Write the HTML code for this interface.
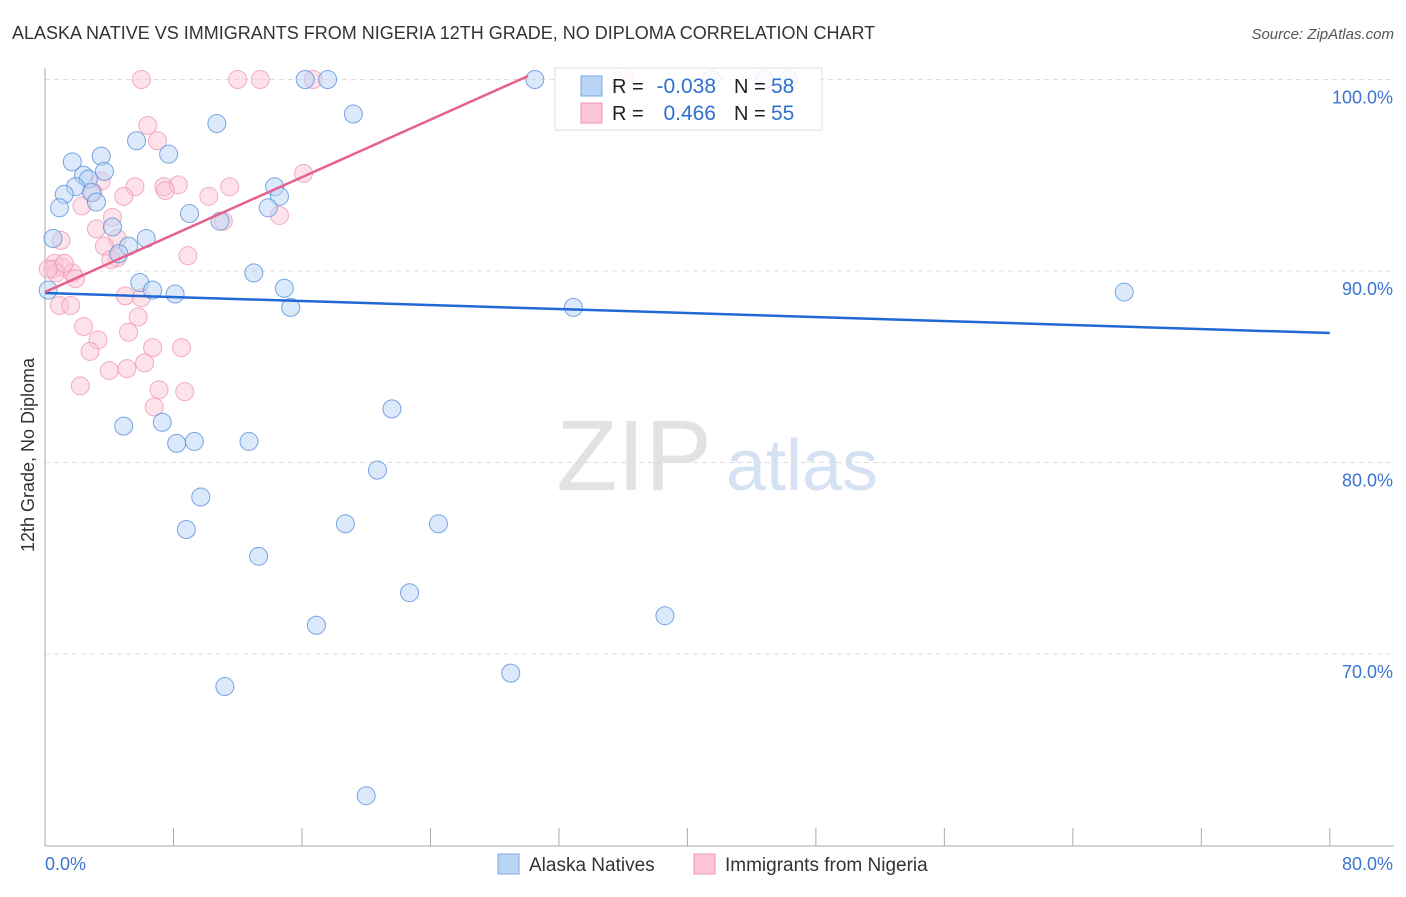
<!DOCTYPE html>
<html><head><meta charset="utf-8"><style>
body{margin:0;background:#fff;font-family:"Liberation Sans",sans-serif}
svg text{font-family:"Liberation Sans",sans-serif}
</style></head><body>
<svg id="chart" width="1406" height="892">
<text x="12" y="39" font-size="18" fill="#333">ALASKA NATIVE VS IMMIGRANTS FROM NIGERIA 12TH GRADE, NO DIPLOMA CORRELATION CHART</text>
<text x="1394" y="39" font-size="15" fill="#555" text-anchor="end" font-style="italic">Source: ZipAtlas.com</text>
<text x="634" y="490" font-size="100" fill="#e2e2e2" font-family="Liberation Serif" text-anchor="middle">ZIP</text>
<text x="802" y="490" font-size="72" fill="#d5e2f3" text-anchor="middle">atlas</text>
<g id="grid"></g>
<g id="axes"></g>
<g id="pts"></g>
<g id="lines"></g>
<text x="34" y="455" font-size="18" fill="#333" text-anchor="middle" transform="rotate(-90 34 455)">12th Grade, No Diploma</text>
<g>
<rect x="555" y="68" width="267" height="62" fill="#fff" fill-opacity="0.85" stroke="#ddd"/>
<rect x="581" y="76" width="21" height="20" fill="#b9d4f5" stroke="#7aa7e3"/>
<rect x="581" y="103" width="21" height="20" fill="#fcc6d6" stroke="#ee94b0"/>
<text x="612" y="93" font-size="20" fill="#222">R =</text>
<text x="716" y="93" font-size="21" fill="#2f6fd0" text-anchor="end">-0.038</text>
<text x="734" y="93" font-size="20" fill="#222">N =</text>
<text x="771" y="93" font-size="21" fill="#2f6fd0">58</text>
<text x="612" y="120" font-size="20" fill="#222">R =</text>
<text x="716" y="120" font-size="21" fill="#2f6fd0" text-anchor="end">0.466</text>
<text x="734" y="120" font-size="20" fill="#222">N =</text>
<text x="771" y="120" font-size="21" fill="#2f6fd0">55</text>
</g>
<g>
<rect x="498" y="854" width="21" height="20" fill="#b9d4f5" stroke="#7aa7e3"/>
<text x="529" y="871" font-size="19" fill="#333">Alaska Natives</text>
<rect x="694" y="854" width="21" height="20" fill="#fcc6d6" stroke="#ee94b0"/>
<text x="725" y="871" font-size="19" fill="#333">Immigrants from Nigeria</text>
</g>
</svg>
<script>
const blueX=[30.5,16.2,17.6,41.5,44.8,46.3,19.2,10.7,5.7,7.7,1.7,3.5,3.7,2.4,2.7,1.9,1.2,2.9,3.2,0.9,14.3,14.6,13.9,9.0,10.9,4.2,0.5,6.3,5.2,4.6,13.0,5.9,14.9,6.7,8.1,0.2,15.3,32.9,67.2,21.6,4.9,7.3,8.2,9.3,12.7,20.7,9.7,18.7,24.5,8.8,13.3,22.7,38.6,16.9,11.2,29.0,20.0];
const blueY=[100,100,100,100,100,100,98.2,97.7,96.8,96.1,95.7,96.0,95.2,95.0,94.8,94.4,94.0,94.1,93.6,93.3,94.4,93.9,93.3,93.0,92.6,92.3,91.7,91.7,91.3,90.9,89.9,89.4,89.1,89.0,88.8,89.0,88.1,88.1,88.9,82.8,81.9,82.1,81.0,81.1,81.1,79.6,78.2,76.8,76.8,76.5,75.1,73.2,72.0,71.5,68.3,69.0,62.6];
const pinkX=[6.0,12.0,13.4,16.7,36.1,6.4,7.0,3.5,5.6,7.4,8.3,11.5,3.0,4.9,7.5,10.2,2.3,16.1,14.6,4.2,3.2,11.1,4.5,1.0,3.7,4.5,4.1,8.9,0.6,1.1,0.5,0.7,1.7,1.9,1.2,5.0,6.0,0.9,1.6,5.8,2.4,5.2,3.3,2.8,6.7,8.5,6.2,4.0,5.1,2.2,7.1,8.7,6.8,0.2];
const pinkY=[100,100,100,100,100,97.6,96.8,94.7,94.4,94.4,94.5,94.4,94.1,93.9,94.2,93.9,93.4,95.1,92.9,92.8,92.2,92.6,91.7,91.6,91.3,90.7,90.6,90.8,90.4,90.2,90.1,89.9,89.9,89.6,90.4,88.7,88.6,88.2,88.2,87.6,87.1,86.8,86.4,85.8,86.0,86.0,85.2,84.8,84.9,84.0,83.8,83.7,82.9,90.1];
const blueTrend=[[0,88.85],[80,86.76]];
const pinkTrend=[[0,88.9],[30.07,100.18]];
const yTicks=[100,90,80,70];
const yTickLabels=["100.0%","90.0%","80.0%","70.0%"];
const xTicks=[0,8,16,24,32,40,48,56,64,72,80];

const X=v=>45+v*16.06, Y=v=>79.5+(100-v)*19.15;
const NS="http://www.w3.org/2000/svg";
function mk(tag,attrs,parent){const e=document.createElementNS(NS,tag);for(const k in attrs)e.setAttribute(k,attrs[k]);parent.appendChild(e);return e;}
const grid=document.getElementById('grid'),axes=document.getElementById('axes'),pts=document.getElementById('pts'),lines=document.getElementById('lines');
yTicks.forEach((t,i)=>{
 const g=mk('line',{x1:45,x2:1394,y1:Y(t),y2:Y(t),stroke:'#ddd','stroke-dasharray':'5,4'},grid);
 
 
 const tx=mk('text',{x:1393,y:Y(t)+24,'font-size':18,fill:'#3b74cf','text-anchor':'end'},axes);
 tx.textContent=yTickLabels[i];
 
 
});
const ya=mk('line',{x1:45,x2:45,y1:68,y2:846,stroke:'#aaa'},axes);


const xa=mk('line',{x1:45,x2:1394,y1:846,y2:846,stroke:'#aaa'},axes);


xTicks.forEach(t=>{
 const l=mk('line',{x1:X(t),x2:X(t),y1:828,y2:846,stroke:'#aaa'},axes);
 
 
});
const x0=mk('text',{x:45,y:870,'font-size':18,fill:'#3b74cf'},axes);x0.textContent='0.0%';


const x1=mk('text',{x:1393,y:870,'font-size':18,fill:'#3b74cf','text-anchor':'end'},axes);x1.textContent='80.0%';


pinkX.forEach((v,i)=>{
 const c=mk('circle',{cx:X(v),cy:Y(pinkY[i]),r:9,fill:'#fcc6d6','fill-opacity':0.5,stroke:'#ec8fac','stroke-opacity':0.7},pts);
 
 
});
blueX.forEach((v,i)=>{
 const c=mk('circle',{cx:X(v),cy:Y(blueY[i]),r:9,fill:'#b9d4f5','fill-opacity':0.5,stroke:'#4f8ad9','stroke-opacity':0.75},pts);
 
 
});
const bl=mk('line',{x1:X(blueTrend[0][0]),y1:Y(blueTrend[0][1]),x2:X(blueTrend[1][0]),y2:Y(blueTrend[1][1]),stroke:'#2068d6','stroke-width':2.5},lines);


const pl=mk('line',{x1:X(pinkTrend[0][0]),y1:Y(pinkTrend[0][1]),x2:X(pinkTrend[1][0]),y2:Y(pinkTrend[1][1]),stroke:'#e8608c','stroke-width':2.5},lines);


</script>
</body></html>
